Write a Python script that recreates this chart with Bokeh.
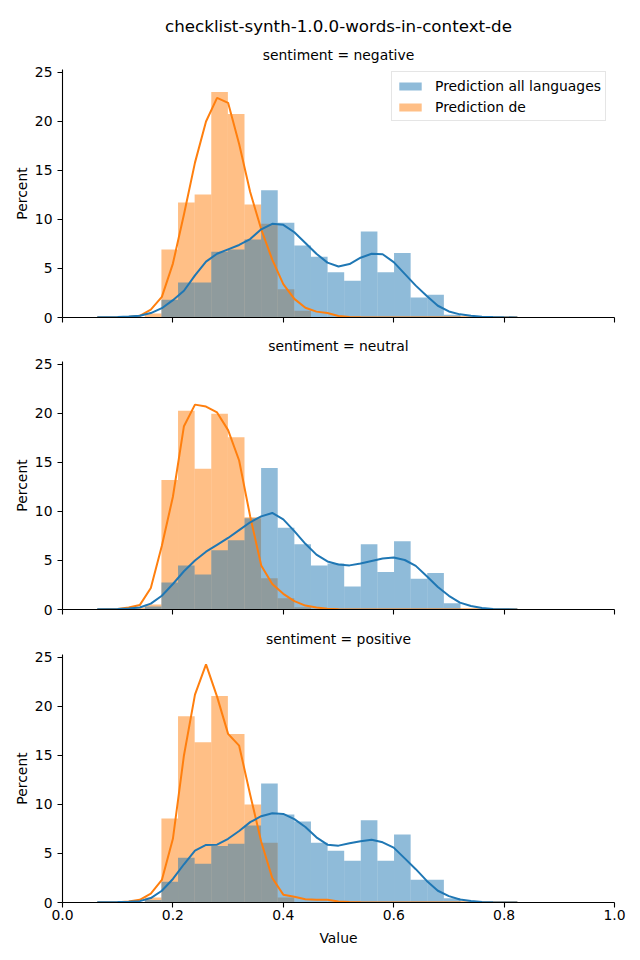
from bokeh.plotting import figure
from bokeh.models import Range1d, Legend, LegendItem, Title, FixedTicker, NumeralTickFormatter
from bokeh.layouts import column
from bokeh.embed import file_html
from bokeh.resources import INLINE

CHART_TITLE = "checklist-synth-1.0.0-words-in-context-de"
FACET_LABEL = "sentiment = {}"
SENTIMENTS = ["negative", "neutral", "positive"]
SERIES_ALL = "Prediction all languages"
SERIES_DE = "Prediction de"
X_LABEL = "Value"
Y_LABEL = "Percent"

# histogram bins (shared by both series)
BIN_START = 0.119
BIN_WIDTH = 0.0301
N_BINS = 20

# percent per bin
NEG_ALL = [0, 0, 1.81, 3.58, 3.58, 6.72, 6.93, 7.95, 12.97, 9.66, 7.34, 6.21, 4.61, 3.75, 8.77, 4.61, 6.59, 2.05, 2.32, 0.27]
NEG_DE = [0, 0.4, 6.93, 11.74, 12.56, 23.0, 20.75, 11.54, 9.56, 2.87, 0.68, 0, 0, 0, 0, 0, 0, 0, 0, 0]
NEU_ALL = [0, 0.3, 2.76, 4.5, 3.58, 6.04, 7.06, 9.3, 14.44, 8.33, 6.66, 4.5, 4.68, 2.35, 6.66, 3.82, 6.96, 3.14, 3.72, 0.65]
NEU_DE = [0.2, 0.5, 13.2, 20.27, 14.37, 19.97, 17.58, 9.4, 3.2, 1.16, 0.24, 0, 0, 0, 0, 0, 0, 0, 0, 0]
POS_ALL = [0, 0.25, 2.12, 4.57, 3.96, 5.77, 6.0, 7.85, 12.15, 8.98, 8.26, 6.1, 5.29, 4.27, 8.4, 4.27, 6.93, 2.32, 2.32, 0.44]
POS_DE = [0, 0.5, 8.57, 19.0, 16.35, 21.06, 17.2, 10.0, 6.1, 0.5, 0, 0, 0, 0, 0, 0, 0, 0, 0, 0]

# density curves (in percent units)
KDE_X = [0.063, 0.10, 0.12, 0.14, 0.16, 0.18, 0.20, 0.22, 0.24, 0.26, 0.28, 0.30, 0.32, 0.34, 0.36, 0.38,
         0.40, 0.42, 0.44, 0.46, 0.48, 0.50, 0.52, 0.54, 0.56, 0.58, 0.60, 0.62, 0.64, 0.66, 0.68, 0.70,
         0.72, 0.74, 0.76, 0.78, 0.80, 0.824]
NEG_KDE_ALL = [0.02, 0.06, 0.1, 0.17, 0.45, 0.95, 1.77, 2.73, 4.3, 5.7, 6.5, 6.95, 7.4, 8.0, 9.0, 9.56,
               9.45, 8.7, 7.6, 6.5, 5.6, 5.2, 5.45, 6.1, 6.5, 6.45, 5.65, 4.45, 3.25, 2.2, 1.2, 0.62,
               0.32, 0.17, 0.08, 0.04, 0.02, 0.0]
NEG_KDE_DE = [0.0, 0.02, 0.06, 0.17, 0.8, 2.1, 5.5, 10.5, 15.8, 20.0, 22.4, 21.9, 17.7, 12.8, 9.0, 5.9,
              3.4, 1.9, 1.0, 0.6, 0.45, 0.15, 0.05, 0.02, 0.01, 0, 0, 0, 0, 0, 0, 0,
              0, 0, 0, 0, 0, 0]
NEU_KDE_ALL = [0.02, 0.06, 0.1, 0.2, 0.6, 1.4, 2.6, 3.9, 5.0, 5.9, 6.6, 7.3, 8.1, 8.9, 9.5, 9.85,
               9.2, 8.0, 6.7, 5.6, 4.9, 4.6, 4.5, 4.7, 4.95, 5.2, 5.3, 5.05, 4.45, 3.4, 2.3, 1.4,
               0.7, 0.35, 0.15, 0.06, 0.03, 0.0]
NEU_KDE_DE = [0.0, 0.05, 0.2, 0.45, 2.2, 6.5, 11.5, 18.7, 20.9, 20.7, 20.1, 18.3, 15.2, 9.5, 4.5, 2.6,
              1.6, 0.85, 0.4, 0.2, 0.08, 0.03, 0.01, 0, 0, 0, 0, 0, 0, 0, 0, 0,
              0, 0, 0, 0, 0, 0]
POS_KDE_ALL = [0.02, 0.05, 0.08, 0.14, 0.45, 1.2, 2.4, 3.9, 5.3, 5.87, 5.9, 6.5, 7.3, 8.2, 8.8, 9.1,
               9.04, 8.5, 7.7, 6.65, 5.9, 5.8, 6.04, 6.25, 6.4, 6.14, 5.6, 4.5, 3.4, 2.2, 1.2, 0.65,
               0.3, 0.15, 0.06, 0.03, 0.01, 0.0]
POS_KDE_DE = [0.0, 0.03, 0.1, 0.27, 0.9, 2.3, 6.5, 15.0, 21.2, 24.3, 21.0, 17.2, 16.0, 11.0, 6.2, 2.5,
              0.8, 0.58, 0.34, 0.27, 0.27, 0.1, 0.05, 0.02, 0, 0, 0, 0, 0, 0, 0, 0,
              0, 0, 0, 0, 0, 0]

X_TICKS = [0.0, 0.2, 0.4, 0.6, 0.8, 1.0]
Y_TICKS = [0, 5, 10, 15, 20, 25]
X_MAX = 1.0
Y_MAX = 25.3

BLUE = "#1f77b4"
ORANGE = "#ff7f0e"
FONT = "DejaVu Sans"
FS = "13.9px"

HISTS = [(NEG_ALL, NEG_DE, NEG_KDE_ALL, NEG_KDE_DE),
         (NEU_ALL, NEU_DE, NEU_KDE_ALL, NEU_KDE_DE),
         (POS_ALL, POS_DE, POS_KDE_ALL, POS_KDE_DE)]

lefts = [BIN_START + i * BIN_WIDTH for i in range(N_BINS)]
rights = [l + BIN_WIDTH for l in lefts]

LAYOUT = [  # (height, top border, bottom border)
    (327, 69, 10),
    (292, 34, 10),
    (341, 35, 58),
]


def style_title(t, size):
    t.text_font = FONT
    t.text_font_size = size
    t.text_font_style = "normal"
    t.text_color = "black"


figs = []
for idx, (name, (h_all, h_de, k_all, k_de)) in enumerate(zip(SENTIMENTS, HISTS)):
    height, btop, bbot = LAYOUT[idx]
    last = idx == len(SENTIMENTS) - 1
    p = figure(width=640, height=height, x_range=Range1d(0, X_MAX), y_range=Range1d(0, Y_MAX),
               output_backend="svg", toolbar_location=None,
               min_border_left=62, min_border_right=26, min_border_top=btop, min_border_bottom=bbot)
    facet = FACET_LABEL.format(name)
    if idx == 0:
        p.title.text = CHART_TITLE
        p.title.align = "center"
        p.title.offset = -18
        p.title.standoff = 4
        style_title(p.title, "16.7px")
        sub = Title(text=facet, align="center", standoff=14)
        style_title(sub, FS)
        p.add_layout(sub, "above")
    else:
        p.title.text = facet
        p.title.align = "center"
        p.title.standoff = 15
        style_title(p.title, FS)

    r_de = p.quad(left=lefts, right=rights, bottom=0, top=h_de, fill_color=ORANGE, fill_alpha=0.5, line_color=None)
    r_all = p.quad(left=lefts, right=rights, bottom=0, top=h_all, fill_color=BLUE, fill_alpha=0.5, line_color=None)
    p.line(KDE_X, k_de, line_color=ORANGE, line_width=2)
    p.line(KDE_X, k_all, line_color=BLUE, line_width=2)

    p.xgrid.visible = False
    p.ygrid.visible = False
    p.outline_line_color = None

    for ax in (p.xaxis[0], p.yaxis[0]):
        ax.axis_line_color = "black"
        ax.axis_line_width = 1.1
        ax.major_tick_line_color = "black"
        ax.major_tick_line_width = 1.1
        ax.major_tick_out = 5
        ax.major_tick_in = 0
        ax.minor_tick_line_color = None
        ax.major_label_text_font = FONT
        ax.major_label_text_font_size = FS
        ax.major_label_text_color = "black"
        ax.axis_label_text_font = FONT
        ax.axis_label_text_font_size = FS
        ax.axis_label_text_font_style = "normal"
        ax.axis_label_text_color = "black"

    p.xaxis.ticker = FixedTicker(ticks=X_TICKS)
    p.yaxis.ticker = FixedTicker(ticks=Y_TICKS)
    p.yaxis.axis_label = Y_LABEL
    p.yaxis.major_label_standoff = 5
    p.yaxis.axis_label_standoff = 2
    if last:
        p.xaxis.axis_label = X_LABEL
        p.xaxis.formatter = NumeralTickFormatter(format="0.0")
        p.xaxis.major_label_standoff = 2
        p.xaxis.axis_label_standoff = 7
    else:
        p.xaxis.major_label_overrides = {t: "" for t in X_TICKS}
        p.xaxis.major_label_standoff = 0

    if idx == 0:
        legend = Legend(items=[LegendItem(label=SERIES_ALL, renderers=[r_all]),
                               LegendItem(label=SERIES_DE, renderers=[r_de])],
                        location=(329, 196), padding=4, spacing=2,
                        glyph_width=28, glyph_height=10, label_height=19, label_standoff=11,
                        label_text_font=FONT, label_text_font_size=FS, label_text_color="black",
                        border_line_color="#cccccc", border_line_width=1,
                        background_fill_color="white", background_fill_alpha=0.8)
        p.add_layout(legend)
    figs.append(p)

layout = column(*figs, spacing=0)
open("out.html", "w").write(file_html(layout, INLINE))
